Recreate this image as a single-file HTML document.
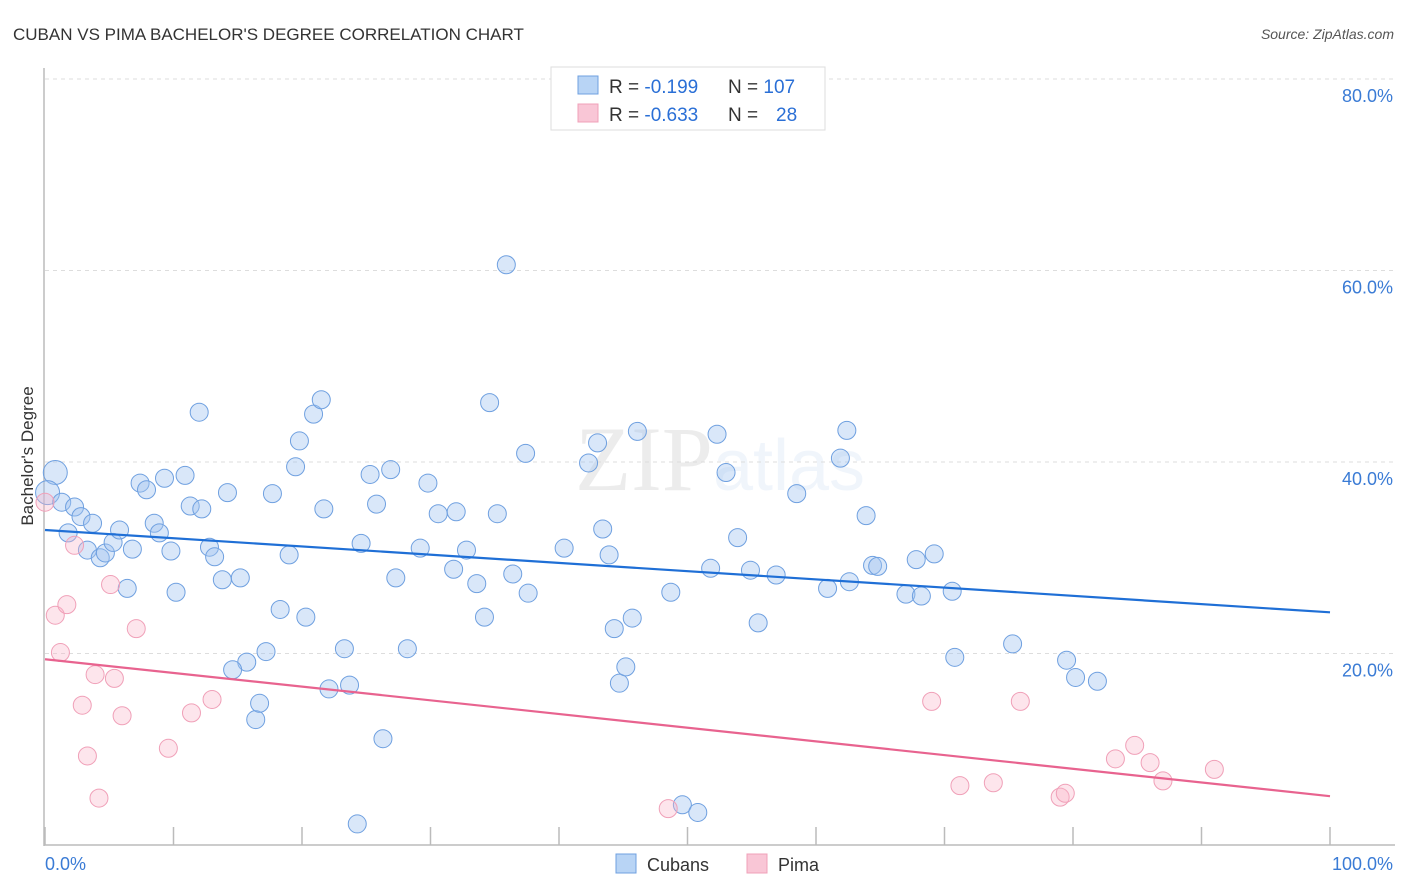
<!DOCTYPE html>
<html><head><meta charset="utf-8"><style>
body{margin:0;background:#fff;font-family:"Liberation Sans",sans-serif}
svg{display:block}
</style></head><body>
<svg id="chart" width="1406" height="892" xmlns="http://www.w3.org/2000/svg">
<text x="13" y="40" font-size="17" fill="#333">CUBAN VS PIMA BACHELOR'S DEGREE CORRELATION CHART</text>
<text x="1394" y="39" font-size="14" font-style="italic" fill="#555" text-anchor="end">Source: ZipAtlas.com</text>
<text x="720" y="490" font-size="92" text-anchor="middle" fill="#000" opacity="0.07" font-family="Liberation Serif,serif">ZIP<tspan fill="#3a7bd5" opacity="1" font-family="Liberation Sans,sans-serif" font-size="72">atlas</tspan></text>
<g id="grid"></g><g id="axes"></g><g id="marks"></g>
<text x="33" y="456" font-size="17" fill="#333" text-anchor="middle" transform="rotate(-90 33 456)">Bachelor's Degree</text>
<g>
<rect x="551" y="67" width="274" height="63" fill="#fff" stroke="#ddd"/>
<rect x="578" y="76" width="20" height="18" fill="#b8d4f5" stroke="#6fa0e0"/>
<rect x="578" y="104" width="20" height="18" fill="#f9c6d6" stroke="#f0a0b8"/>
<text x="609" y="93" font-size="19" fill="#333">R = <tspan fill="#2a6fd6">-0.199</tspan><tspan x="728">N = </tspan><tspan fill="#2a6fd6">107</tspan></text>
<text x="609" y="121" font-size="19" fill="#333">R = <tspan fill="#2a6fd6">-0.633</tspan><tspan x="728">N = </tspan><tspan fill="#2a6fd6" x="776">28</tspan></text>
</g>
<g>
<rect x="616" y="854" width="20" height="19" fill="#b8d4f5" stroke="#6fa0e0"/>
<text x="647" y="871" font-size="18" fill="#333">Cubans</text>
<rect x="747" y="854" width="20" height="19" fill="#f9c6d6" stroke="#f0a0b8"/>
<text x="778" y="871" font-size="18" fill="#333">Pima</text>
</g>
</svg>
<script>
const yTicks=[20,40,60,80];
const yTickLabels=["20.0%","40.0%","60.0%","80.0%"];
const xTickLabels=["0.0%","100.0%"];
const cubanX=[0.8,0.2,1.3,2.3,2.8,1.8,3.7,3.3,4.3,4.7,5.3,5.8,6.4,6.8,7.4,7.9,8.5,8.9,9.3,9.8,10.2,10.9,11.3,12.0,12.2,12.8,13.2,13.8,14.2,15.2,15.7,14.6,16.4,16.7,17.2,17.7,18.3,19.0,19.5,19.8,20.3,20.9,21.5,21.7,22.1,23.3,23.7,24.3,24.6,25.3,25.8,26.3,26.9,27.3,28.2,29.2,29.8,30.6,32.0,31.8,32.8,33.6,34.2,34.6,35.2,35.9,36.4,37.4,37.6,40.4,42.3,43.0,43.4,43.9,44.3,44.7,45.2,45.7,46.1,48.7,49.6,50.8,51.8,52.3,53.0,53.9,54.9,55.5,56.9,58.5,60.9,61.9,62.4,62.6,63.9,64.4,64.8,67.0,67.8,68.2,69.2,70.6,70.8,75.3,79.5,80.2,81.9];
const cubanY=[38.9,36.8,35.8,35.3,34.3,32.6,33.6,30.8,30.0,30.5,31.6,32.9,26.8,30.9,37.8,37.1,33.6,32.6,38.3,30.7,26.4,38.6,35.4,45.2,35.1,31.1,30.1,27.7,36.8,27.9,19.1,18.3,13.1,14.8,20.2,36.7,24.6,30.3,39.5,42.2,23.8,45.0,46.5,35.1,16.3,20.5,16.7,2.2,31.5,38.7,35.6,11.1,39.2,27.9,20.5,31.0,37.8,34.6,34.8,28.8,30.8,27.3,23.8,46.2,34.6,60.6,28.3,40.9,26.3,31.0,39.9,42.0,33.0,30.3,22.6,16.9,18.6,23.7,43.2,26.4,4.2,3.4,28.9,42.9,38.9,32.1,28.7,23.2,28.2,36.7,26.8,40.4,43.3,27.5,34.4,29.2,29.1,26.2,29.8,26.0,30.4,26.5,19.6,21.0,19.3,17.5,17.1];
const pimaX=[0.0,0.8,1.2,1.7,2.3,2.9,3.3,3.9,4.2,5.1,5.4,6.0,7.1,9.6,11.4,13.0,48.5,69.0,71.2,73.8,75.9,79.0,79.4,83.3,84.8,86.0,87.0,91.0];
const pimaY=[35.8,24.0,20.1,25.1,31.3,14.6,9.3,17.8,4.9,27.2,17.4,13.5,22.6,10.1,13.8,15.2,3.8,15.0,6.2,6.5,15.0,5.0,5.4,9.0,10.4,8.6,6.7,7.9];
const cubanTrend=[32.9,24.3];
const pimaTrend=[19.4,5.1];
const NS="http://www.w3.org/2000/svg";
const X=v=>45+v*12.85, Y=v=>845-v*9.575;
function mk(tag,attrs,parent){const e=document.createElementNS(NS,tag);for(const k in attrs)e.setAttribute(k,attrs[k]);parent.appendChild(e);return e;}
const grid=document.getElementById('grid'),axes=document.getElementById('axes'),marks=document.getElementById('marks');
yTicks.forEach((t,i)=>{
 const l=mk('line',{x1:45,x2:1395,y1:Y(t),y2:Y(t),stroke:'#ddd','stroke-dasharray':'4,4'},grid);
 
 
 const tx=mk('text',{x:1393,y:Y(t)+23,'font-size':18,fill:'#3a7bd5','text-anchor':'end'},grid);
 tx.textContent=yTickLabels[i];
 
 
});
const ya=mk('line',{x1:44,x2:44,y1:68,y2:846,stroke:'#bbb','stroke-width':1.5},axes);


const xa=mk('line',{x1:44,x2:1395,y1:845,y2:845,stroke:'#bbb','stroke-width':1.5},axes);


for(let i=0;i<=10;i++){const t=mk('line',{x1:X(i*10),x2:X(i*10),y1:827,y2:845,stroke:'#bbb','stroke-width':1.5},axes);
 
 }
[[0,'start'],[100,'end']].forEach((p,i)=>{const t=mk('text',{x:i?1393:45,y:870,'font-size':18,fill:'#3a7bd5','text-anchor':p[1]},axes);t.textContent=xTickLabels[i];
 
 });
cubanX.forEach((x,i)=>{const c=mk('circle',{cx:X(x),cy:Y(cubanY[i]),r:i<2?12:9,fill:'rgba(160,196,240,0.4)',stroke:'#6fa0e0','stroke-width':1},marks);
 
 });
pimaX.forEach((x,i)=>{const c=mk('circle',{cx:X(x),cy:Y(pimaY[i]),r:9,fill:'rgba(248,180,200,0.35)',stroke:'#f0a0b8','stroke-width':1},marks);
 
 });
const bl=mk('line',{x1:X(0),x2:X(100),y1:Y(cubanTrend[0]),y2:Y(cubanTrend[1]),stroke:'#1f6fd6','stroke-width':2.2},marks);


const pl=mk('line',{x1:X(0),x2:X(100),y1:Y(pimaTrend[0]),y2:Y(pimaTrend[1]),stroke:'#e8638f','stroke-width':2.2},marks);


</script>
</body></html>
